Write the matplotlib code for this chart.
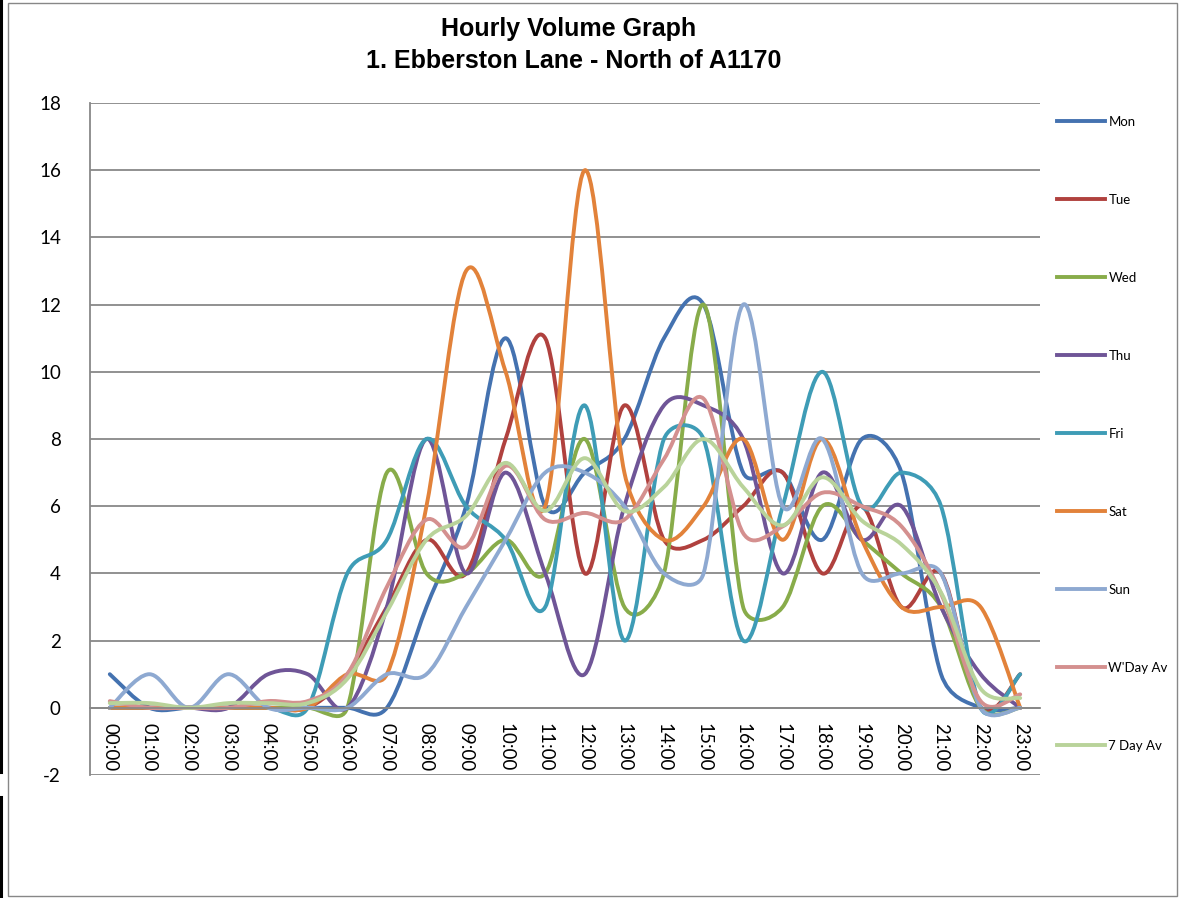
import matplotlib
matplotlib.use("Agg")
import matplotlib.pyplot as plt
import numpy as np
from matplotlib.path import Path
from matplotlib.patches import PathPatch, Rectangle
from matplotlib.lines import Line2D

plt.rcParams["axes.unicode_minus"] = False

hours = ["%02d:00" % h for h in range(24)]

mon = [1, 0, 0, 0, 0, 0, 0, 0, 3, 6, 11, 6, 7, 8, 11, 12, 7, 7, 5, 8, 7, 1, 0, 0]
tue = [0, 0, 0, 0, 0, 0, 1, 3, 5, 4, 8, 11, 4, 9, 5, 5, 6, 7, 4, 6, 3, 4, 0, 1]
wed = [0, 0, 0, 0, 0, 0, 0, 7, 4, 4, 5, 4, 8, 3, 4, 12, 3, 3, 6, 5, 4, 3, 0, 0]
thu = [0, 0, 0, 0, 1, 1, 0, 3, 8, 4, 7, 4, 1, 6, 9, 9, 8, 4, 7, 5, 6, 3, 1, 0]
fri = [0, 0, 0, 0, 0, 0, 4, 5, 8, 6, 5, 3, 9, 2, 8, 8, 2, 6, 10, 6, 7, 6, 0, 1]
sat = [0, 0, 0, 0, 0, 0, 1, 1, 6, 13, 10, 6, 16, 7, 5, 6, 8, 5, 8, 5, 3, 3, 3, 0]
sun = [0, 1, 0, 1, 0, 0, 0, 1, 1, 3, 5, 7, 7, 6, 4, 4, 12, 6, 8, 4, 4, 4, 0, 0]
wday_av = [0.2, 0, 0, 0, 0.2, 0.2, 1.0, 3.6, 5.6, 4.8, 7.2, 5.6, 5.8, 5.6, 7.4, 9.2,
           5.2, 5.4, 6.4, 6.0, 5.4, 3.4, 0.2, 0.4]
week_av = [0.14, 0.14, 0, 0.14, 0.14, 0.14, 0.86, 2.86, 5.0, 5.71, 7.29, 5.86, 7.43,
           5.86, 6.57, 8.0, 6.57, 5.43, 6.86, 5.57, 4.86, 3.43, 0.57, 0.29]

names = ["Mon", "Tue", "Wed", "Thu", "Fri", "Sat", "Sun", "W'Day Av", "7 Day Av"]
series = [mon, tue, wed, thu, fri, sat, sun, wday_av, week_av]
colors = ["#4472B0", "#B0413E", "#88AC4A", "#6F5597", "#3E9CB6",
          "#E2823A", "#8EA9D1", "#D4908F", "#B9D39A"]

# pixels per data unit on screen, used so the smoothing behaves like excel's
PX_X = 950 / 24
PX_Y = 672 / 20


def smooth_path(y):
    # excel style smoothed line: bezier through every point,
    # tangent arms = |P(i+1)-P(i-1)|/6, but never longer than half the segment
    y = np.asarray(y, dtype=float)
    x = np.arange(len(y), dtype=float)
    pts = np.column_stack([x * PX_X, y * PX_Y])
    n = len(pts)
    fwd = np.zeros_like(pts)
    bwd = np.zeros_like(pts)
    for i in range(n):
        p0 = pts[max(i - 1, 0)]
        p2 = pts[min(i + 1, n - 1)]
        t = p2 - p0
        lt = np.hypot(*t)
        if lt == 0:
            continue
        d = t / lt
        arm = lt / 6
        if i < n - 1:
            fwd[i] = d * min(arm, np.hypot(*(pts[i + 1] - pts[i])) / 2)
        if i > 0:
            bwd[i] = d * min(arm, np.hypot(*(pts[i] - pts[i - 1])) / 2)
    verts = [pts[0]]
    codes = [Path.MOVETO]
    for i in range(n - 1):
        verts += [pts[i] + fwd[i], pts[i + 1] - bwd[i + 1], pts[i + 1]]
        codes += [Path.CURVE4] * 3
    verts = np.array(verts) / [PX_X, PX_Y]
    return Path(verts, codes)


fig = plt.figure(figsize=(11.82, 8.98), dpi=100)
ax = fig.add_axes([90 / 1182, 1 - 775 / 898, 950 / 1182, 672 / 898])

for y, c in zip(series, colors):
    ax.add_patch(PathPatch(smooth_path(y), fill=False, edgecolor=c, lw=2.8,
                           capstyle="round", joinstyle="round"))

ax.set_xlim(-0.5, 23.5)
ax.set_ylim(-2, 18)
ax.set_yticks(range(-2, 19, 2))
ax.set_xticks(range(24))
ax.set_xticklabels(hours)
ax.grid(axis="y", color="#888888", lw=1.3)
ax.set_axisbelow(True)
for s in ["top", "right"]:
    ax.spines[s].set_visible(False)
ax.spines["left"].set_color("#888888")
ax.spines["left"].set_linewidth(1.3)
ax.spines["bottom"].set_position(("data", 0))
ax.spines["bottom"].set_color("#888888")
ax.spines["bottom"].set_linewidth(1.3)
ax.tick_params(axis="x", length=0, pad=11, labelsize=13.5, labelrotation=-90)
ax.tick_params(axis="y", length=0, pad=21, labelsize=13.5)
for t in ax.get_xticklabels():
    t.set_family("Lato")
    t.set_va("top")
    t.set_ha("center")
for t in ax.get_yticklabels():
    t.set_family("Lato")

handles = [Line2D([], [], color=c, lw=2.8) for c in colors]
fig.legend(handles, names, loc="upper left", bbox_to_anchor=(1057 / 1182, 1 - 116 / 898),
           frameon=False, handlelength=3.6, handletextpad=0.3,
           labelspacing=5.0, borderaxespad=0, borderpad=0,
           prop={"family": "Lato", "size": 9.5})

fig.text(569 / 1182, 1 - 29 / 898, "Hourly Volume Graph", ha="center", va="center",
         fontsize=18, fontweight="bold", family="Liberation Sans")
fig.text(574 / 1182, 1 - 61 / 898, "1. Ebberston Lane - North of A1170", ha="center",
         va="center", fontsize=18, fontweight="bold", family="Liberation Sans")

# chart frame
fig.patches.append(Rectangle((8 / 1182, 1 - 896 / 898), 1169 / 1182, 893 / 898,
                             transform=fig.transFigure, fill=False, edgecolor="#878787", lw=1))
fig.lines.append(Line2D([1.5 / 1182] * 2, [1, 1 - 772 / 898], transform=fig.transFigure,
                        color="black", lw=2.2))
fig.lines.append(Line2D([1.5 / 1182] * 2, [1 - 797 / 898, 0], transform=fig.transFigure,
                        color="black", lw=2.2))

fig.savefig("out.png", dpi=100)
